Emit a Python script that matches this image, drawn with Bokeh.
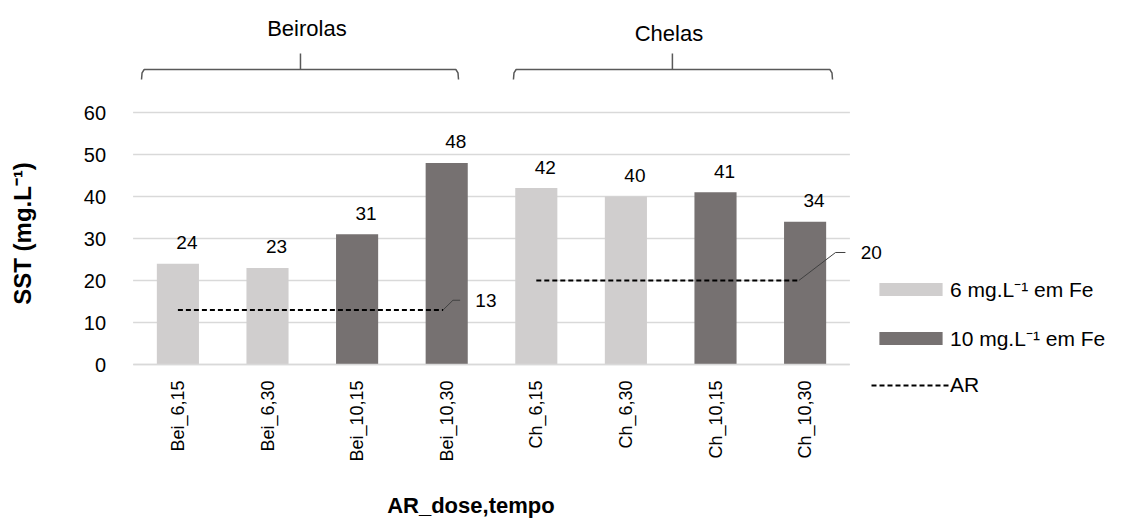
import math

from bokeh.core.properties import value
from bokeh.embed import file_html
from bokeh.models import FixedTicker, Legend, LegendItem, Range1d
from bokeh.plotting import figure
from bokeh.resources import INLINE

# ---- data -------------------------------------------------------------
categories = ["Bei_6,15", "Bei_6,30", "Bei_10,15", "Bei_10,30",
              "Ch_6,15", "Ch_6,30", "Ch_10,15", "Ch_10,30"]
sst = [24, 23, 31, 48, 42, 40, 41, 34]          # SST (mg/L)
dose = [6, 6, 10, 10, 6, 6, 10, 10]              # Fe dose (mg/L)
sites = ["Beirolas", "Chelas"]
site_members = [[0, 1, 2, 3], [4, 5, 6, 7]]       # category indexes per site
ar_limit = [13, 20]                              # AR reference per site
y_ticks = [0, 10, 20, 30, 40, 50, 60]

# ---- style ------------------------------------------------------------
FONT = "Liberation Sans"
LIGHT = "#d0cece"
DARK = "#767171"
GRID = "#d9d9d9"
INK = "#000000"

W, H = 1125, 519
X0_PX, Y0_PX = 177.4, 364.0     # pixel position of first category / of y = 0
PX_X, PX_Y = 89.6, 4.2          # pixels per category / per mg/L
n = len(categories)

# the frame fills the whole canvas; axes are pinned at x = -0.5 and y = 0
p = figure(width=W, height=H, title=None,
           x_range=Range1d(-X0_PX / PX_X, (W - X0_PX) / PX_X),
           y_range=Range1d(-(H - Y0_PX) / PX_Y, Y0_PX / PX_Y),
           output_backend="svg", toolbar_location=None,
           min_border=0, min_border_left=0, min_border_right=0,
           min_border_top=0, min_border_bottom=0)
p.outline_line_color = None
p.background_fill_color = "white"
p.border_fill_color = "white"
p.grid.visible = False

# horizontal grid lines limited to the bar area
p.segment(x0=[-0.5] * len(y_ticks), x1=[n - 0.5] * len(y_ticks),
          y0=y_ticks, y1=y_ticks, line_color=GRID, line_width=1.5)

# ---- axes ---------------------------------------------------------------
ya = p.yaxis[0]
ya.fixed_location = -0.5
ya.ticker = FixedTicker(ticks=y_ticks)
ya.bounds = (0, 60)
ya.axis_line_color = None
ya.major_tick_line_color = None
ya.minor_tick_line_color = None
ya.major_label_standoff = 21
ya.major_label_text_font = FONT
ya.major_label_text_font_size = "20px"
ya.major_label_text_color = INK

xa = p.xaxis[0]
xa.fixed_location = 0
xa.ticker = FixedTicker(ticks=list(range(n)))
xa.major_label_overrides = {i: c for i, c in enumerate(categories)}
xa.major_label_orientation = math.pi / 2
xa.bounds = (-0.5, n - 0.5)
xa.axis_line_color = GRID
xa.axis_line_width = 1.5
xa.major_tick_line_color = None
xa.minor_tick_line_color = None
xa.major_label_standoff = 10
xa.major_label_text_font = FONT
xa.major_label_text_font_size = "18px"
xa.major_label_text_color = INK

# ---- bars ---------------------------------------------------------------
idx6 = [i for i, d in enumerate(dose) if d == 6]
idx10 = [i for i, d in enumerate(dose) if d == 10]
r6 = p.vbar(x=idx6, top=[sst[i] for i in idx6], width=0.47,
            fill_color=LIGHT, line_color=None)
r10 = p.vbar(x=idx10, top=[sst[i] for i in idx10], width=0.47,
             fill_color=DARK, line_color=None)

p.text(x=list(range(n)), y=sst, text=[str(v) for v in sst],
       x_offset=9, y_offset=-21, text_align="center", text_baseline="middle",
       text_font=value(FONT), text_font_size="19px", text_color=INK)

# ---- AR reference lines with callouts -----------------------------------
leader = [(0.11, 2.3, 0.08), (0.41, 6.67, 0.11)]   # (dx, dy, flat) per site
end_trim = [0.04, 0.07]
ar_renderers = []
for s, members in enumerate(site_members):
    x0, x1 = members[0], members[-1] - end_trim[s]
    r = p.line(x=[x0, x1], y=[ar_limit[s]] * 2, line_color=INK,
               line_width=2, line_dash="5 3")
    ar_renderers.append(r)
    dx, dy, flat = leader[s]
    p.line(x=[x1, x1 + dx, x1 + dx + flat],
           y=[ar_limit[s], ar_limit[s] + dy, ar_limit[s] + dy],
           line_color="#404040", line_width=1)
    p.text(x=[x1 + dx + flat + 0.17], y=[ar_limit[s] + dy],
           text=[str(ar_limit[s])], text_align="left", text_baseline="middle",
           text_font=value(FONT), text_font_size="19px", text_color=INK)

# ---- site brackets ------------------------------------------------------
bracket_span = [(-0.406, 3.132), (3.745, 7.306)]
bracket_mid = [1.368, 5.519]
label_x = [1.44, 5.48]
label_y = [80.0, 78.8]
YB, YL, YT = 70.24, 67.86, 74.05
for s, name in enumerate(sites):
    l, r = bracket_span[s]
    c = bracket_mid[s]
    p.line(x=[l, l + 0.006, l + 0.03, c, r - 0.03, r - 0.006, r],
           y=[YL, YB - 0.8, YB, YB, YB, YB - 0.8, YL],
           line_color="#595959", line_width=1.5)
    p.line(x=[c, c], y=[YB, YT], line_color="#595959", line_width=1.5)
    p.text(x=[label_x[s]], y=[label_y[s]], text=[name],
           text_align="center", text_baseline="middle",
           text_font=value(FONT), text_font_size="22px", text_color=INK)

# ---- axis titles --------------------------------------------------------
p.text(x=[-1.73], y=[31.2], text=["SST (mg.L⁻¹)"], angle=math.pi / 2,
       text_align="center", text_baseline="middle",
       text_font=value(FONT), text_font_style="bold",
       text_font_size="24px", text_color=INK)
p.text(x=[3.27], y=[-33.6], text=["AR_dose,tempo"],
       text_align="center", text_baseline="middle",
       text_font=value(FONT), text_font_style="bold",
       text_font_size="22px", text_color=INK)

# ---- legend -------------------------------------------------------------
legend = Legend(items=[
    LegendItem(label="6 mg.L⁻¹ em Fe", renderers=[r6]),
    LegendItem(label="10 mg.L⁻¹ em Fe", renderers=[r10]),
    LegendItem(label="AR", renderers=[ar_renderers[0]]),
], location=(871, 122), glyph_width=79, glyph_height=16, label_height=24,
    label_standoff=0, spacing=21, padding=0, margin=0,
    border_line_color=None, background_fill_alpha=0,
    label_text_font=FONT, label_text_font_size="21px",
    label_text_color=INK)
p.add_layout(legend)

open("out.html", "w").write(file_html(p, INLINE))
